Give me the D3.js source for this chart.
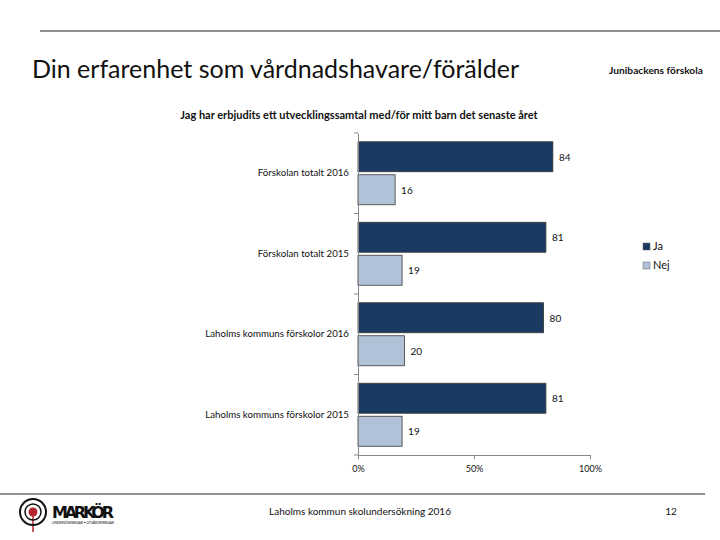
<!DOCTYPE html>
<html><head><meta charset="utf-8">
<script src="https://cdn.jsdelivr.net/npm/d3@7"></script>
<style>body{margin:0;background:#fff}svg{display:block}text{font-family:Lato,"Open Sans",sans-serif}</style>
</head><body><svg id="c" width="720" height="540"></svg>
<script>
const categories = ["Förskolan totalt 2016","Förskolan totalt 2015","Laholms kommuns förskolor 2016","Laholms kommuns förskolor 2015"];
const seriesNames = ["Ja","Nej"];
const jaValues = [84,81,80,81];
const nejValues = [16,19,20,19];
const tickValues = [0,50,100];
const tickLabels = ["0%","50%","100%"];
const colors = {Ja:"#1b3a61", Nej:"#b1c2d8"};

const svg = d3.select("#c");
// page decorations
svg.append("line").attr("x1",40).attr("x2",720).attr("y1",31).attr("y2",31).attr("stroke","#222").attr("stroke-width",1.2);
svg.append("line").attr("x1",0).attr("x2",705).attr("y1",494).attr("y2",494).attr("stroke","#222").attr("stroke-width",1.2);
svg.append("text").attr("x",32).attr("y",78).attr("font-size",25).attr("font-weight",400).attr("fill","#111").text("Din erfarenhet som vårdnadshavare/förälder");
svg.append("text").attr("x",656).attr("y",74).attr("text-anchor","middle").attr("font-size",10.2).attr("font-weight","bold").attr("fill","#111").text("Junibackens förskola");
svg.append("text").attr("x",359).attr("y",119).attr("text-anchor","middle").attr("font-size",11).attr("font-weight","bold").attr("fill","#111").text("Jag har erbjudits ett utvecklingssamtal med/för mitt barn det senaste året");

const x = d3.scaleLinear().domain([0,100]).range([358,590]);
const y = d3.scaleBand().domain(categories).range([133,455]).paddingInner(0).paddingOuter(0);
const yi = d3.scaleBand().domain(seriesNames).range([0,y.bandwidth()]).paddingInner(0.0909).paddingOuter(0.265);

const data = categories.map((c,i)=>({cat:c, vals:[{s:"Ja",v:jaValues[i]},{s:"Nej",v:nejValues[i]}]}));
const g = svg.append("g");
const grp = g.selectAll("g.cat").data(data).join("g").attr("transform",d=>`translate(0,${y(d.cat)})`);
grp.selectAll("rect").data(d=>d.vals).join("rect")
  .attr("x",x(0)).attr("y",d=>yi(d.s)).attr("width",d=>x(d.v)-x(0)).attr("height",yi.bandwidth())
  .attr("fill",d=>colors[d.s]).attr("stroke","#3a3a3a").attr("stroke-width",0.8);
grp.selectAll("text.lbl").data(d=>d.vals).join("text").attr("class","lbl")
  .attr("x",d=>x(d.v)+6).attr("y",d=>yi(d.s)+yi.bandwidth()/2+4).attr("font-size",10).attr("fill","#111").text(d=>d.v);

// y axis
const yAxis = d3.axisLeft(y).tickSize(0).tickPadding(9);
const ya = svg.append("g").attr("transform",`translate(${x(0)},0)`).call(yAxis);
ya.select(".domain").attr("stroke","#888");
ya.selectAll("text").attr("font-size",9.7).attr("fill","#111").style("font-family","Lato");
// band boundary ticks
svg.append("g").selectAll("line").data(d3.range(categories.length+1)).join("line")
  .attr("x1",x(0)-4).attr("x2",x(0)).attr("y1",i=>133+i*y.step()).attr("y2",i=>133+i*y.step()).attr("stroke","#888");

// x axis
const xAxis = d3.axisBottom(x).tickValues(tickValues).tickFormat((d,i)=>tickLabels[i]).tickSize(4).tickSizeOuter(0);
const xa = svg.append("g").attr("transform",`translate(0,455)`).call(xAxis);
xa.select(".domain").attr("stroke","#888");
xa.selectAll(".tick line").attr("stroke","#888");
xa.selectAll("text").attr("font-size",9).attr("fill","#111").attr("dy","1.1em").style("font-family","Lato");

// legend
const lg = svg.append("g").selectAll("g").data(seriesNames).join("g").attr("transform",(d,i)=>`translate(643,${243+i*19})`);
lg.append("rect").attr("width",7).attr("height",7).attr("fill",d=>colors[d]).attr("stroke","#666").attr("stroke-width",0.5);
lg.append("text").attr("x",10).attr("y",7).attr("font-size",11).attr("fill","#111").text(d=>d);

// footer
svg.append("text").attr("x",360).attr("y",515).attr("text-anchor","middle").attr("font-size",10).attr("fill","#111").text("Laholms kommun skolundersökning 2016");
svg.append("text").attr("x",671).attr("y",515).attr("text-anchor","middle").attr("font-size",10).attr("fill","#111").text("12");

// logo
const lo = svg.append("g");
lo.append("line").attr("x1",33).attr("x2",33).attr("y1",515).attr("y2",532).attr("stroke","#b3262f").attr("stroke-width",1.5);
lo.append("circle").attr("cx",33).attr("cy",512).attr("r",13).attr("fill","none").attr("stroke","#111").attr("stroke-width",2);
lo.append("circle").attr("cx",33).attr("cy",512).attr("r",8).attr("fill","none").attr("stroke","#111").attr("stroke-width",1.5);
lo.append("circle").attr("cx",33).attr("cy",512).attr("r",4.5).attr("fill","#b3262f");
lo.append("text").attr("x",52).attr("y",518).attr("font-size",16).attr("font-weight",900).attr("fill","#111").style("font-family","'DejaVu Sans'").attr("textLength",62).text("MARKÖR");
lo.append("text").attr("x",52).attr("y",524).attr("font-size",3.5).attr("fill","#111").attr("textLength",62).text("UNDERSÖKNINGAR • UTVÄRDERINGAR");
</script></body></html>
